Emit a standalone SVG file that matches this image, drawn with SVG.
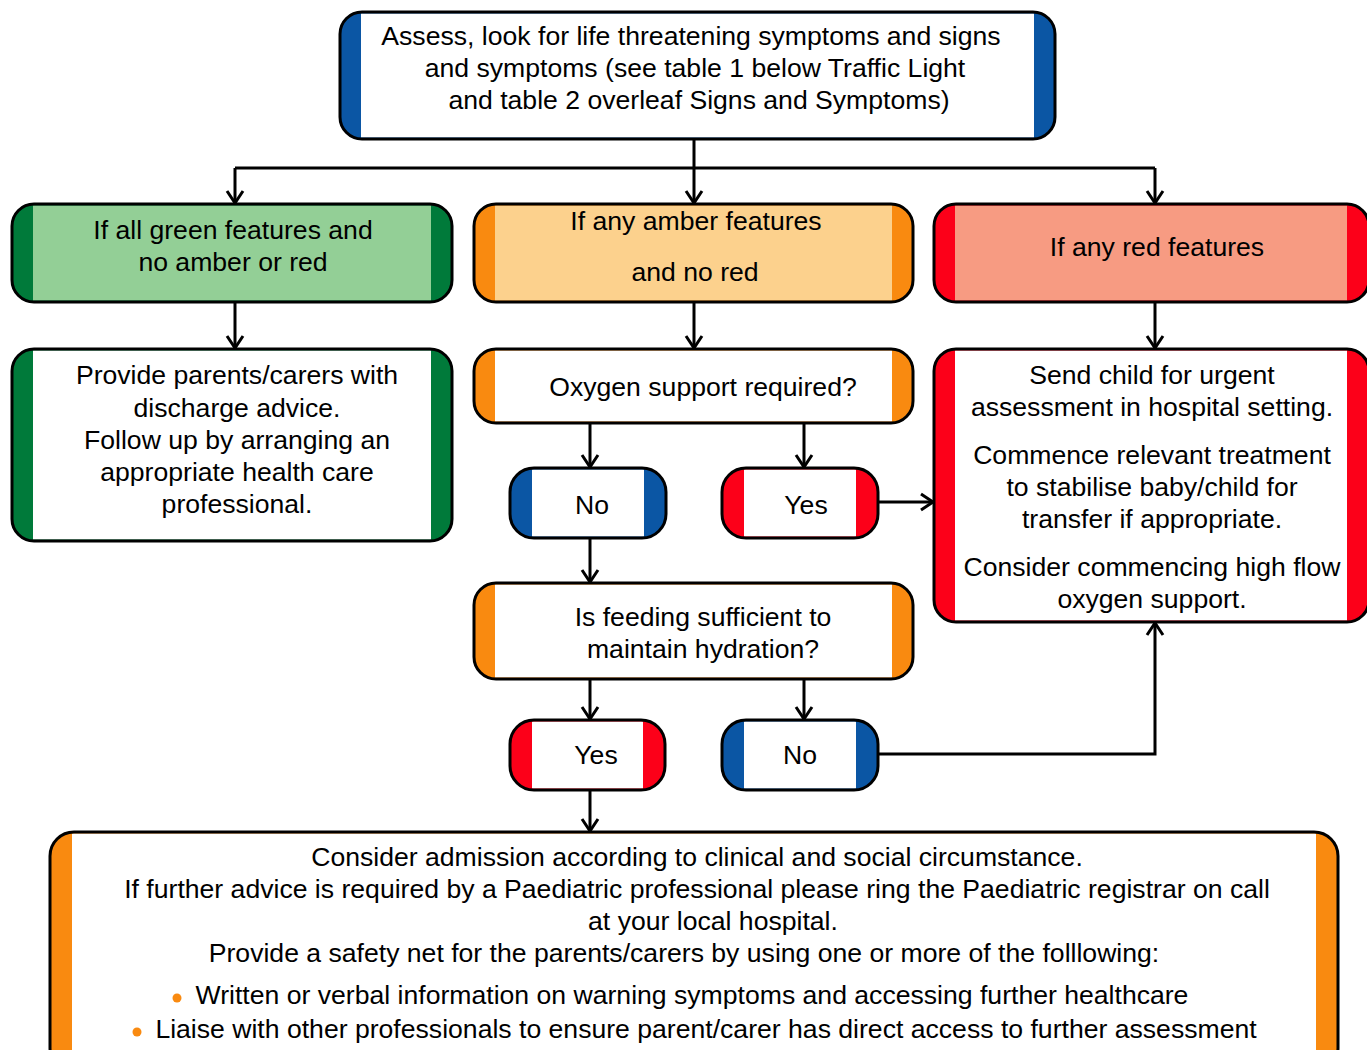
<svg xmlns="http://www.w3.org/2000/svg" width="1367" height="1050" viewBox="0 0 1367 1050">
<defs>
<marker id="arr" markerUnits="userSpaceOnUse" markerWidth="20" markerHeight="20" viewBox="0 0 20 20" refX="17" refY="10" orient="auto">
<path d="M5,2 L17,10 L5,18" fill="none" stroke="#000" stroke-width="3"/>
</marker>
</defs>
<style>
text{font-family:"Liberation Sans",Arial,sans-serif;font-size:26.6px;fill:#000;text-anchor:middle}
.ol{fill:none;stroke:#000;stroke-width:3}
.ln{fill:none;stroke:#000;stroke-width:3}
.blue{fill:#0b56a4}.green{fill:#007a3a}.amber{fill:#f98a10}.red{fill:#fc0019}
.wf{fill:#fff}.gf{fill:#93cf96}.af{fill:#fcd18d}.rf{fill:#f79b82}
.dot{fill:#f98a10}
</style>
<rect width="1367" height="1050" fill="#fff"/>
<g id="connectors">
<path class="ln" d="M694,139 V168 M235,168 H1155"/>
<path class="ln" d="M235,168 V203" marker-end="url(#arr)"/>
<path class="ln" d="M694,168 V203" marker-end="url(#arr)"/>
<path class="ln" d="M1155,168 V203" marker-end="url(#arr)"/>
<path class="ln" d="M235,302 V348" marker-end="url(#arr)"/>
<path class="ln" d="M694,302 V348" marker-end="url(#arr)"/>
<path class="ln" d="M1155,302 V348" marker-end="url(#arr)"/>
<path class="ln" d="M590,423 V467" marker-end="url(#arr)"/>
<path class="ln" d="M804,423 V467" marker-end="url(#arr)"/>
<path class="ln" d="M878,502 H933" marker-end="url(#arr)"/>
<path class="ln" d="M590,538 V582" marker-end="url(#arr)"/>
<path class="ln" d="M590,679 V719" marker-end="url(#arr)"/>
<path class="ln" d="M804,679 V719" marker-end="url(#arr)"/>
<path class="ln" d="M878,754 H1155 V623" marker-end="url(#arr)"/>
<path class="ln" d="M590,790 V831" marker-end="url(#arr)"/>
</g>
<g id="n-assess">
<rect class="blue" x="340" y="12" width="715" height="127" rx="22"/>
<rect class="wf" x="361" y="13.5" width="673" height="124"/>
<rect class="ol" x="340" y="12" width="715" height="127" rx="22"/>
<text x="691" y="45">Assess, look for life threatening symptoms and signs</text>
<text x="695" y="77">and symptoms (see table 1 below Traffic Light</text>
<text x="699" y="109">and table 2 overleaf Signs and Symptoms)</text>
</g>
<g id="n-green">
<rect class="green" x="12" y="204" width="440" height="98" rx="22"/>
<rect class="gf" x="33" y="205.5" width="398" height="95"/>
<rect class="ol" x="12" y="204" width="440" height="98" rx="22"/>
<text x="233" y="239">If all green features and</text>
<text x="233" y="271">no amber or red</text>
</g>
<g id="n-amber">
<rect class="amber" x="474" y="204" width="439" height="98" rx="22"/>
<rect class="af" x="495" y="205.5" width="397" height="95"/>
<rect class="ol" x="474" y="204" width="439" height="98" rx="22"/>
<text x="696" y="230">If any amber features</text>
<text x="695" y="281">and no red</text>
</g>
<g id="n-red">
<rect class="red" x="934" y="204" width="435" height="98" rx="22"/>
<rect class="rf" x="955" y="205.5" width="392" height="95"/>
<rect class="ol" x="934" y="204" width="435" height="98" rx="22"/>
<text x="1157" y="256">If any red features</text>
</g>
<g id="n-discharge">
<rect class="green" x="12" y="349" width="440" height="192" rx="22"/>
<rect class="wf" x="33" y="350.5" width="398" height="189"/>
<rect class="ol" x="12" y="349" width="440" height="192" rx="22"/>
<text x="237" y="384">Provide parents/carers with</text>
<text x="237" y="417">discharge advice.</text>
<text x="237" y="449">Follow up by arranging an</text>
<text x="237" y="481">appropriate health care</text>
<text x="237" y="513">professional.</text>
</g>
<g id="n-oxygen">
<rect class="amber" x="474" y="349" width="439" height="74" rx="22"/>
<rect class="wf" x="495" y="350.5" width="397" height="71"/>
<rect class="ol" x="474" y="349" width="439" height="74" rx="22"/>
<text x="703" y="396">Oxygen support required?</text>
</g>
<g id="n-urgent">
<rect class="red" x="934" y="349" width="435" height="273" rx="22"/>
<rect class="wf" x="955" y="350.5" width="392" height="270"/>
<rect class="ol" x="934" y="349" width="435" height="273" rx="22"/>
<text x="1152" y="384">Send child for urgent</text>
<text x="1152" y="416">assessment in hospital setting.</text>
<text x="1152" y="464">Commence relevant treatment</text>
<text x="1152" y="496">to stabilise baby/child for</text>
<text x="1152" y="528">transfer if appropriate.</text>
<text x="1152" y="576">Consider commencing high flow</text>
<text x="1152" y="608">oxygen support.</text>
</g>
<g id="n-no1">
<rect class="blue" x="510" y="468" width="156" height="70" rx="24"/>
<rect class="wf" x="532" y="469.5" width="112" height="67"/>
<rect class="ol" x="510" y="468" width="156" height="70" rx="24"/>
<text x="592" y="514">No</text>
</g>
<g id="n-yes1">
<rect class="red" x="722" y="468" width="156" height="70" rx="24"/>
<rect class="wf" x="744" y="469.5" width="112" height="67"/>
<rect class="ol" x="722" y="468" width="156" height="70" rx="24"/>
<text x="806" y="514">Yes</text>
</g>
<g id="n-feeding">
<rect class="amber" x="474" y="583" width="439" height="96" rx="22"/>
<rect class="wf" x="495" y="584.5" width="397" height="93"/>
<rect class="ol" x="474" y="583" width="439" height="96" rx="22"/>
<text x="703" y="626">Is feeding sufficient to</text>
<text x="703" y="658">maintain hydration?</text>
</g>
<g id="n-yes2">
<rect class="red" x="510" y="720" width="155" height="70" rx="24"/>
<rect class="wf" x="532" y="721.5" width="111" height="67"/>
<rect class="ol" x="510" y="720" width="155" height="70" rx="24"/>
<text x="596" y="764">Yes</text>
</g>
<g id="n-no2">
<rect class="blue" x="722" y="720" width="156" height="70" rx="24"/>
<rect class="wf" x="744" y="721.5" width="112" height="67"/>
<rect class="ol" x="722" y="720" width="156" height="70" rx="24"/>
<text x="800" y="764">No</text>
</g>
<g id="n-admission">
<rect class="amber" x="50" y="832" width="1288" height="240" rx="24"/>
<rect class="wf" x="72" y="833.5" width="1244" height="237"/>
<rect class="ol" x="50" y="832" width="1288" height="240" rx="24"/>
<text x="697" y="866">Consider admission according to clinical and social circumstance.</text>
<text x="697" y="898">If further advice is required by a Paediatric professional please ring the Paediatric registrar on call</text>
<text x="713" y="930">at your local hospital.</text>
<text x="684" y="962">Provide a safety net for the parents/carers by using one or more of the folllowing:</text>
<circle class="dot" cx="177" cy="998" r="4.5"/>
<text x="692" y="1004">Written or verbal information on warning symptoms and accessing further healthcare</text>
<circle class="dot" cx="137" cy="1032" r="4.5"/>
<text x="706" y="1038">Liaise with other professionals to ensure parent/carer has direct access to further assessment</text>
</g>
</svg>
